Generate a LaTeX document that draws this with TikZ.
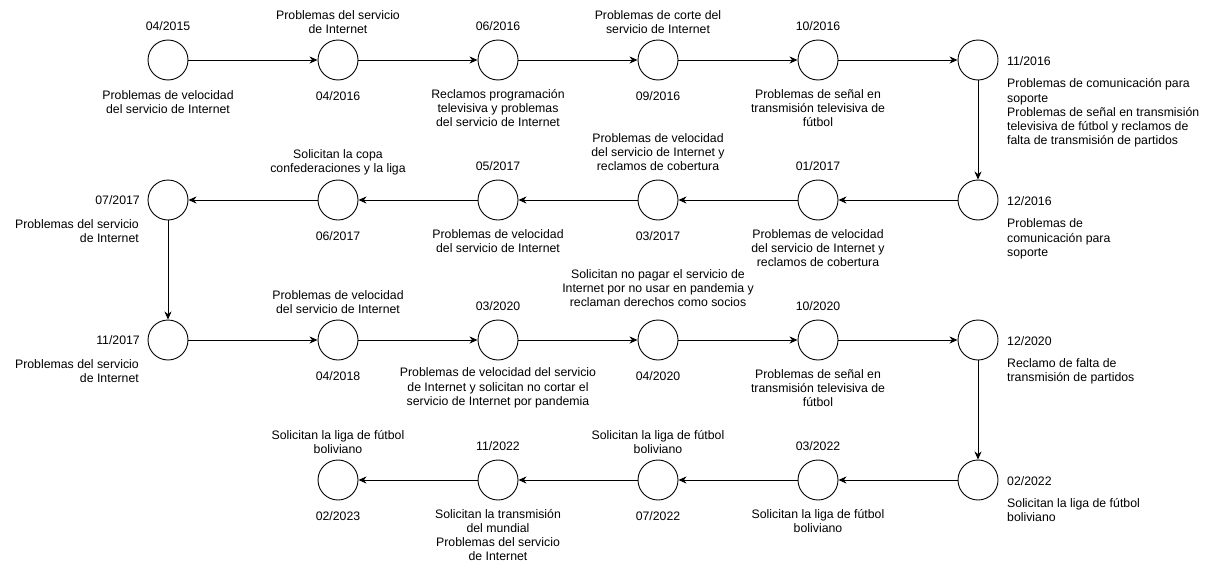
\documentclass[tikz,border=0pt]{standalone}
\usepackage{fontspec}
\setmainfont{Liberation Sans}
\usetikzlibrary{arrows.meta}
\begin{document}
\begin{tikzpicture}[x=1pt,y=-1pt,
  ev/.style={circle,draw,line width=0.9pt,minimum size=40pt,inner sep=0pt},
  lbl/.style={inner sep=0pt,align=center,font=\fontsize{12.3}{14.2}\selectfont},
  lblL/.style={lbl,anchor=west,align=left},
  lblR/.style={lbl,anchor=east,align=right},
  arr/.style={line width=0.9pt,-{Stealth[length=8pt,width=7pt,inset=2.5pt]}}]
\useasboundingbox (0,0) rectangle (1208,565);
% row 1
\node[ev] (a1) at (168,60) {};
\node[ev] (a2) at (338,60) {};
\node[ev] (a3) at (498,60) {};
\node[ev] (a4) at (658,60) {};
\node[ev] (a5) at (818,60) {};
\node[ev] (a6) at (978,60) {};
% row 2
\node[ev] (b1) at (978,200) {};
\node[ev] (b2) at (818,200) {};
\node[ev] (b3) at (658,200) {};
\node[ev] (b4) at (498,200) {};
\node[ev] (b5) at (338,200) {};
\node[ev] (b6) at (168,200) {};
% row 3
\node[ev] (c1) at (168,340) {};
\node[ev] (c2) at (338,340) {};
\node[ev] (c3) at (498,340) {};
\node[ev] (c4) at (658,340) {};
\node[ev] (c5) at (818,340) {};
\node[ev] (c6) at (978,340) {};
% row 4
\node[ev] (d1) at (978,480) {};
\node[ev] (d2) at (818,480) {};
\node[ev] (d3) at (658,480) {};
\node[ev] (d4) at (498,480) {};
\node[ev] (d5) at (338,480) {};
% connectors
\draw[arr] (a1) -- (a2);
\draw[arr] (a2) -- (a3);
\draw[arr] (a3) -- (a4);
\draw[arr] (a4) -- (a5);
\draw[arr] (a5) -- (a6);
\draw[arr] (a6) -- (b1);
\draw[arr] (b1) -- (b2);
\draw[arr] (b2) -- (b3);
\draw[arr] (b3) -- (b4);
\draw[arr] (b4) -- (b5);
\draw[arr] (b5) -- (b6);
\draw[arr] (b6) -- (c1);
\draw[arr] (c1) -- (c2);
\draw[arr] (c2) -- (c3);
\draw[arr] (c3) -- (c4);
\draw[arr] (c4) -- (c5);
\draw[arr] (c5) -- (c6);
\draw[arr] (c6) -- (d1);
\draw[arr] (d1) -- (d2);
\draw[arr] (d2) -- (d3);
\draw[arr] (d3) -- (d4);
\draw[arr] (d4) -- (d5);
% labels row 1
\node[lbl] (ta1) at (168,26) {04/2015};
\node[lbl] (ba1) at (168,102) {Problemas de velocidad\\del servicio de Internet};
\node[lbl] (ta2) at (338,22) {Problemas del servicio\\de Internet};
\node[lbl] (ba2) at (338,96) {04/2016};
\node[lbl] (ta3) at (498,26) {06/2016};
\node[lbl] (ba3) at (498,108) {Reclamos programación\\televisiva y problemas\\del servicio de Internet};
\node[lbl] (ta4) at (658,22) {Problemas de corte del\\servicio de Internet};
\node[lbl] (ba4) at (658,96) {09/2016};
\node[lbl] (ta5) at (818,26) {10/2016};
\node[lbl] (ba5) at (818,108) {Problemas de señal en\\transmisión televisiva de\\fútbol};
\node[lblL] (ta6) at (1007,61) {11/2016};
\node[lblL] (ba6) at (1007,113) {Problemas de comunicación para\\soporte\\Problemas de señal en transmisión\\televisiva de fútbol y reclamos de\\falta de transmisión de partidos};
% labels row 2
\node[lblL] (tb1) at (1007,201) {12/2016};
\node[lblL] (bb1) at (1007,239) {Problemas de\\comunicación para\\soporte};
\node[lbl] (tb2) at (818,166) {01/2017};
\node[lbl] (bb2) at (818,248) {Problemas de velocidad\\del servicio de Internet y\\reclamos de cobertura};
\node[lbl] (tb3) at (658,152) {Problemas de velocidad\\del servicio de Internet y\\reclamos de cobertura};
\node[lbl] (bb3) at (658,236) {03/2017};
\node[lbl] (tb4) at (498,166) {05/2017};
\node[lbl] (bb4) at (498,241) {Problemas de velocidad\\del servicio de Internet};
\node[lbl] (tb5) at (338,162) {Solicitan la copa\\confederaciones y la liga};
\node[lbl] (bb5) at (338,236) {06/2017};
\node[lblR] (tb6) at (140,200) {07/2017};
\node[lblR] (bb6) at (139,231) {Problemas del servicio\\de Internet};
% labels row 3
\node[lblR] (tc1) at (140,340) {11/2017};
\node[lblR] (bc1) at (139,371) {Problemas del servicio\\de Internet};
\node[lbl] (tc2) at (338,302) {Problemas de velocidad\\del servicio de Internet};
\node[lbl] (bc2) at (338,376) {04/2018};
\node[lbl] (tc3) at (498,306) {03/2020};
\node[lbl] (bc3) at (498,388) {Problemas de velocidad del servicio\\de Internet y solicitan no cortar el\\servicio de Internet por pandemia};
\node[lbl] (tc4) at (658,288) {Solicitan no pagar el servicio de\\Internet por no usar en pandemia y\\reclaman derechos como socios};
\node[lbl] (bc4) at (658,376) {04/2020};
\node[lbl] (tc5) at (818,306) {10/2020};
\node[lbl] (bc5) at (818,388) {Problemas de señal en\\transmisión televisiva de\\fútbol};
\node[lblL] (tc6) at (1007,341) {12/2020};
\node[lblL] (bc6) at (1007,371) {Reclamo de falta de\\transmisión de partidos};
% labels row 4
\node[lblL] (td1) at (1007,481) {02/2022};
\node[lblL] (bd1) at (1007,510) {Solicitan la liga de fútbol\\boliviano};
\node[lbl] (td2) at (818,446) {03/2022};
\node[lbl] (bd2) at (818,521) {Solicitan la liga de fútbol\\boliviano};
\node[lbl] (td3) at (658,442) {Solicitan la liga de fútbol\\boliviano};
\node[lbl] (bd3) at (658,516) {07/2022};
\node[lbl] (td4) at (498,446) {11/2022};
\node[lbl] (bd4) at (498,535) {Solicitan la transmisión\\del mundial\\Problemas del servicio\\de Internet};
\node[lbl] (td5) at (338,442) {Solicitan la liga de fútbol\\boliviano};
\node[lbl] (bd5) at (338,516) {02/2023};
\end{tikzpicture}
\end{document}
